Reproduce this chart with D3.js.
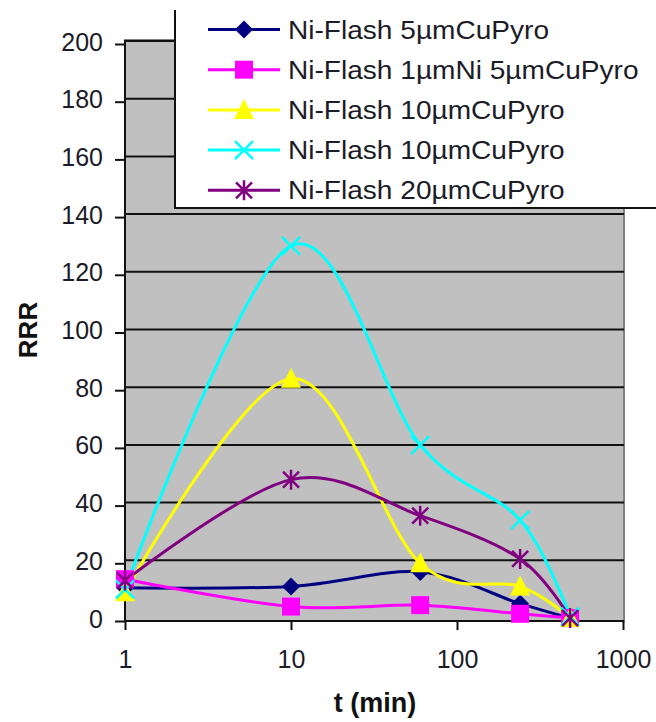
<!DOCTYPE html>
<html><head><meta charset="utf-8">
<script src="https://cdn.jsdelivr.net/npm/d3@7"></script>
<style>body{margin:0;background:#fff}svg{display:block}text{font-family:"Liberation Sans",Arial,sans-serif}</style>
</head><body>
<svg id="c" width="656" height="722"></svg>
<script>
const times = [1, 10, 60, 240, 480];
const seriesNames = ["Ni-Flash 5µmCuPyro","Ni-Flash 1µmNi 5µmCuPyro","Ni-Flash 10µmCuPyro","Ni-Flash 10µmCuPyro","Ni-Flash 20µmCuPyro"];
const navyVals = [11.5, 12, 17, 6, 1];
const magentaVals = [14.5, 5, 5.5, 2.5, 1];
const yellowVals = [10, 84, 20, 12, 1];
const cyanVals = [11, 130, 61, 35, 1.5];
const purpleVals = [14, 49, 36.5, 21.5, 1];
const xTicks = [1, 10, 100, 1000];
const yTicks = [0, 20, 40, 60, 80, 100, 120, 140, 160, 180, 200];
const colors = ["#000080","#ff00ff","#ffff00","#00ffff","#800080"];
const markers = ["diamond","square","triangle","x","star"];
const allVals = [navyVals, magentaVals, yellowVals, cyanVals, purpleVals];

const svg = d3.select("#c");
const x = d3.scaleLog().domain([1,1000]).range([125,623]);
const y = d3.scaleLinear().domain([0,200]).range([621,44]);
const gOff = -3;

// plot area
svg.append("rect").attr("x",125).attr("y",y(200)+gOff-1).attr("width",624-125).attr("height",621-(y(200)+gOff-1))
  .attr("fill","#c0c0c0").attr("stroke","#808080").attr("stroke-width",2);
// gridlines
svg.append("g").selectAll("line").data(yTicks.filter(v=>v>0)).join("line")
  .attr("x1",125).attr("x2",624).attr("y1",d=>y(d)+gOff).attr("y2",d=>y(d)+gOff)
  .attr("stroke","#111").attr("stroke-width",2);

// axes
const yAxis = d3.axisLeft(y).tickValues(yTicks).tickSize(10).tickPadding(12).tickFormat(d3.format("d"));
const gy = svg.append("g").attr("transform","translate(125,0)").call(yAxis);
gy.select(".domain").attr("stroke","#111").attr("stroke-width",2).attr("d","M0,"+(y(200)+gOff-1)+"V622");
gy.selectAll(".tick line").attr("stroke","#111").attr("stroke-width",2);
gy.selectAll(".tick text").attr("font-size",25).attr("fill","#1c1c28").attr("dy",6).attr("font-family","Liberation Sans, Arial, sans-serif");

const xAxis = d3.axisBottom(x).tickValues(xTicks).tickSize(9).tickPadding(0).tickFormat(d3.format("d"));
const gx = svg.append("g").attr("transform","translate(0,621)").call(xAxis);
gx.select(".domain").attr("stroke","#111").attr("stroke-width",2).attr("d","M125,0H624");
gx.selectAll(".tick line").attr("stroke","#111").attr("stroke-width",2);
gx.selectAll(".tick text").attr("font-size",25).attr("fill","#1c1c28").attr("y",47).attr("dy",0).attr("font-family","Liberation Sans, Arial, sans-serif");

// axis titles
svg.append("text").attr("transform","translate(37,330) rotate(-90)").attr("text-anchor","middle")
  .attr("font-size",26).attr("font-weight","bold").attr("fill","#111").text("RRR");
svg.append("text").attr("x",375).attr("y",712).attr("text-anchor","middle")
  .attr("font-size",27).attr("font-weight","bold").attr("fill","#111").text("t (min)");

function drawMarker(g, type, color){
  if(type==="diamond"){
    g.append("path").attr("d","M0,-9L9,0L0,9L-9,0Z").attr("fill",color);
  } else if(type==="square"){
    g.append("rect").attr("x",-9).attr("y",-9).attr("width",18).attr("height",18).attr("fill",color);
  } else if(type==="triangle"){
    g.append("path").attr("d","M0,-11L10,9L-10,9Z").attr("fill",color);
  } else if(type==="x"){
    g.append("path").attr("d","M-9,-9L9,9M-9,9L9,-9").attr("stroke",color).attr("stroke-width",2.5).attr("fill","none");
  } else if(type==="star"){
    g.append("path").attr("d","M-8,-8L8,8M-8,8L8,-8M0,-10V10").attr("stroke",color).attr("stroke-width",2.5).attr("fill","none");
  }
}

const line = d3.line().x(d=>x(d[0])).y(d=>y(d[1])).curve(d3.curveCatmullRom.alpha(0));
allVals.forEach((vals,i)=>{
  const pts = times.map((t,j)=>[t, vals[j]]);
  svg.append("path").attr("d",line(pts)).attr("fill","none").attr("stroke",colors[i]).attr("stroke-width",3);
});
allVals.forEach((vals,i)=>{
  times.forEach((t,j)=>{
    const g = svg.append("g").attr("transform",`translate(${x(t)},${y(vals[j])})`);
    drawMarker(g, markers[i], colors[i]);
  });
});

// legend
const lg = svg.append("g");
lg.append("rect").attr("x",175).attr("y",0).attr("width",481).attr("height",208).attr("fill","#fff");
lg.append("path").attr("d","M175,10V208H656").attr("stroke","#111").attr("stroke-width",2).attr("fill","none");
seriesNames.forEach((n,i)=>{
  const yy = 29.5 + i*40.2;
  lg.append("line").attr("x1",208).attr("x2",280).attr("y1",yy).attr("y2",yy).attr("stroke",colors[i]).attr("stroke-width",3);
  const g = lg.append("g").attr("transform",`translate(244,${yy})`);
  drawMarker(g, markers[i], colors[i]);
  lg.append("text").attr("transform",`translate(288,${yy+9}) scale(1.08,1)`).attr("font-size",26).attr("fill","#1c1c28").text(n);
});
</script>
</body></html>
